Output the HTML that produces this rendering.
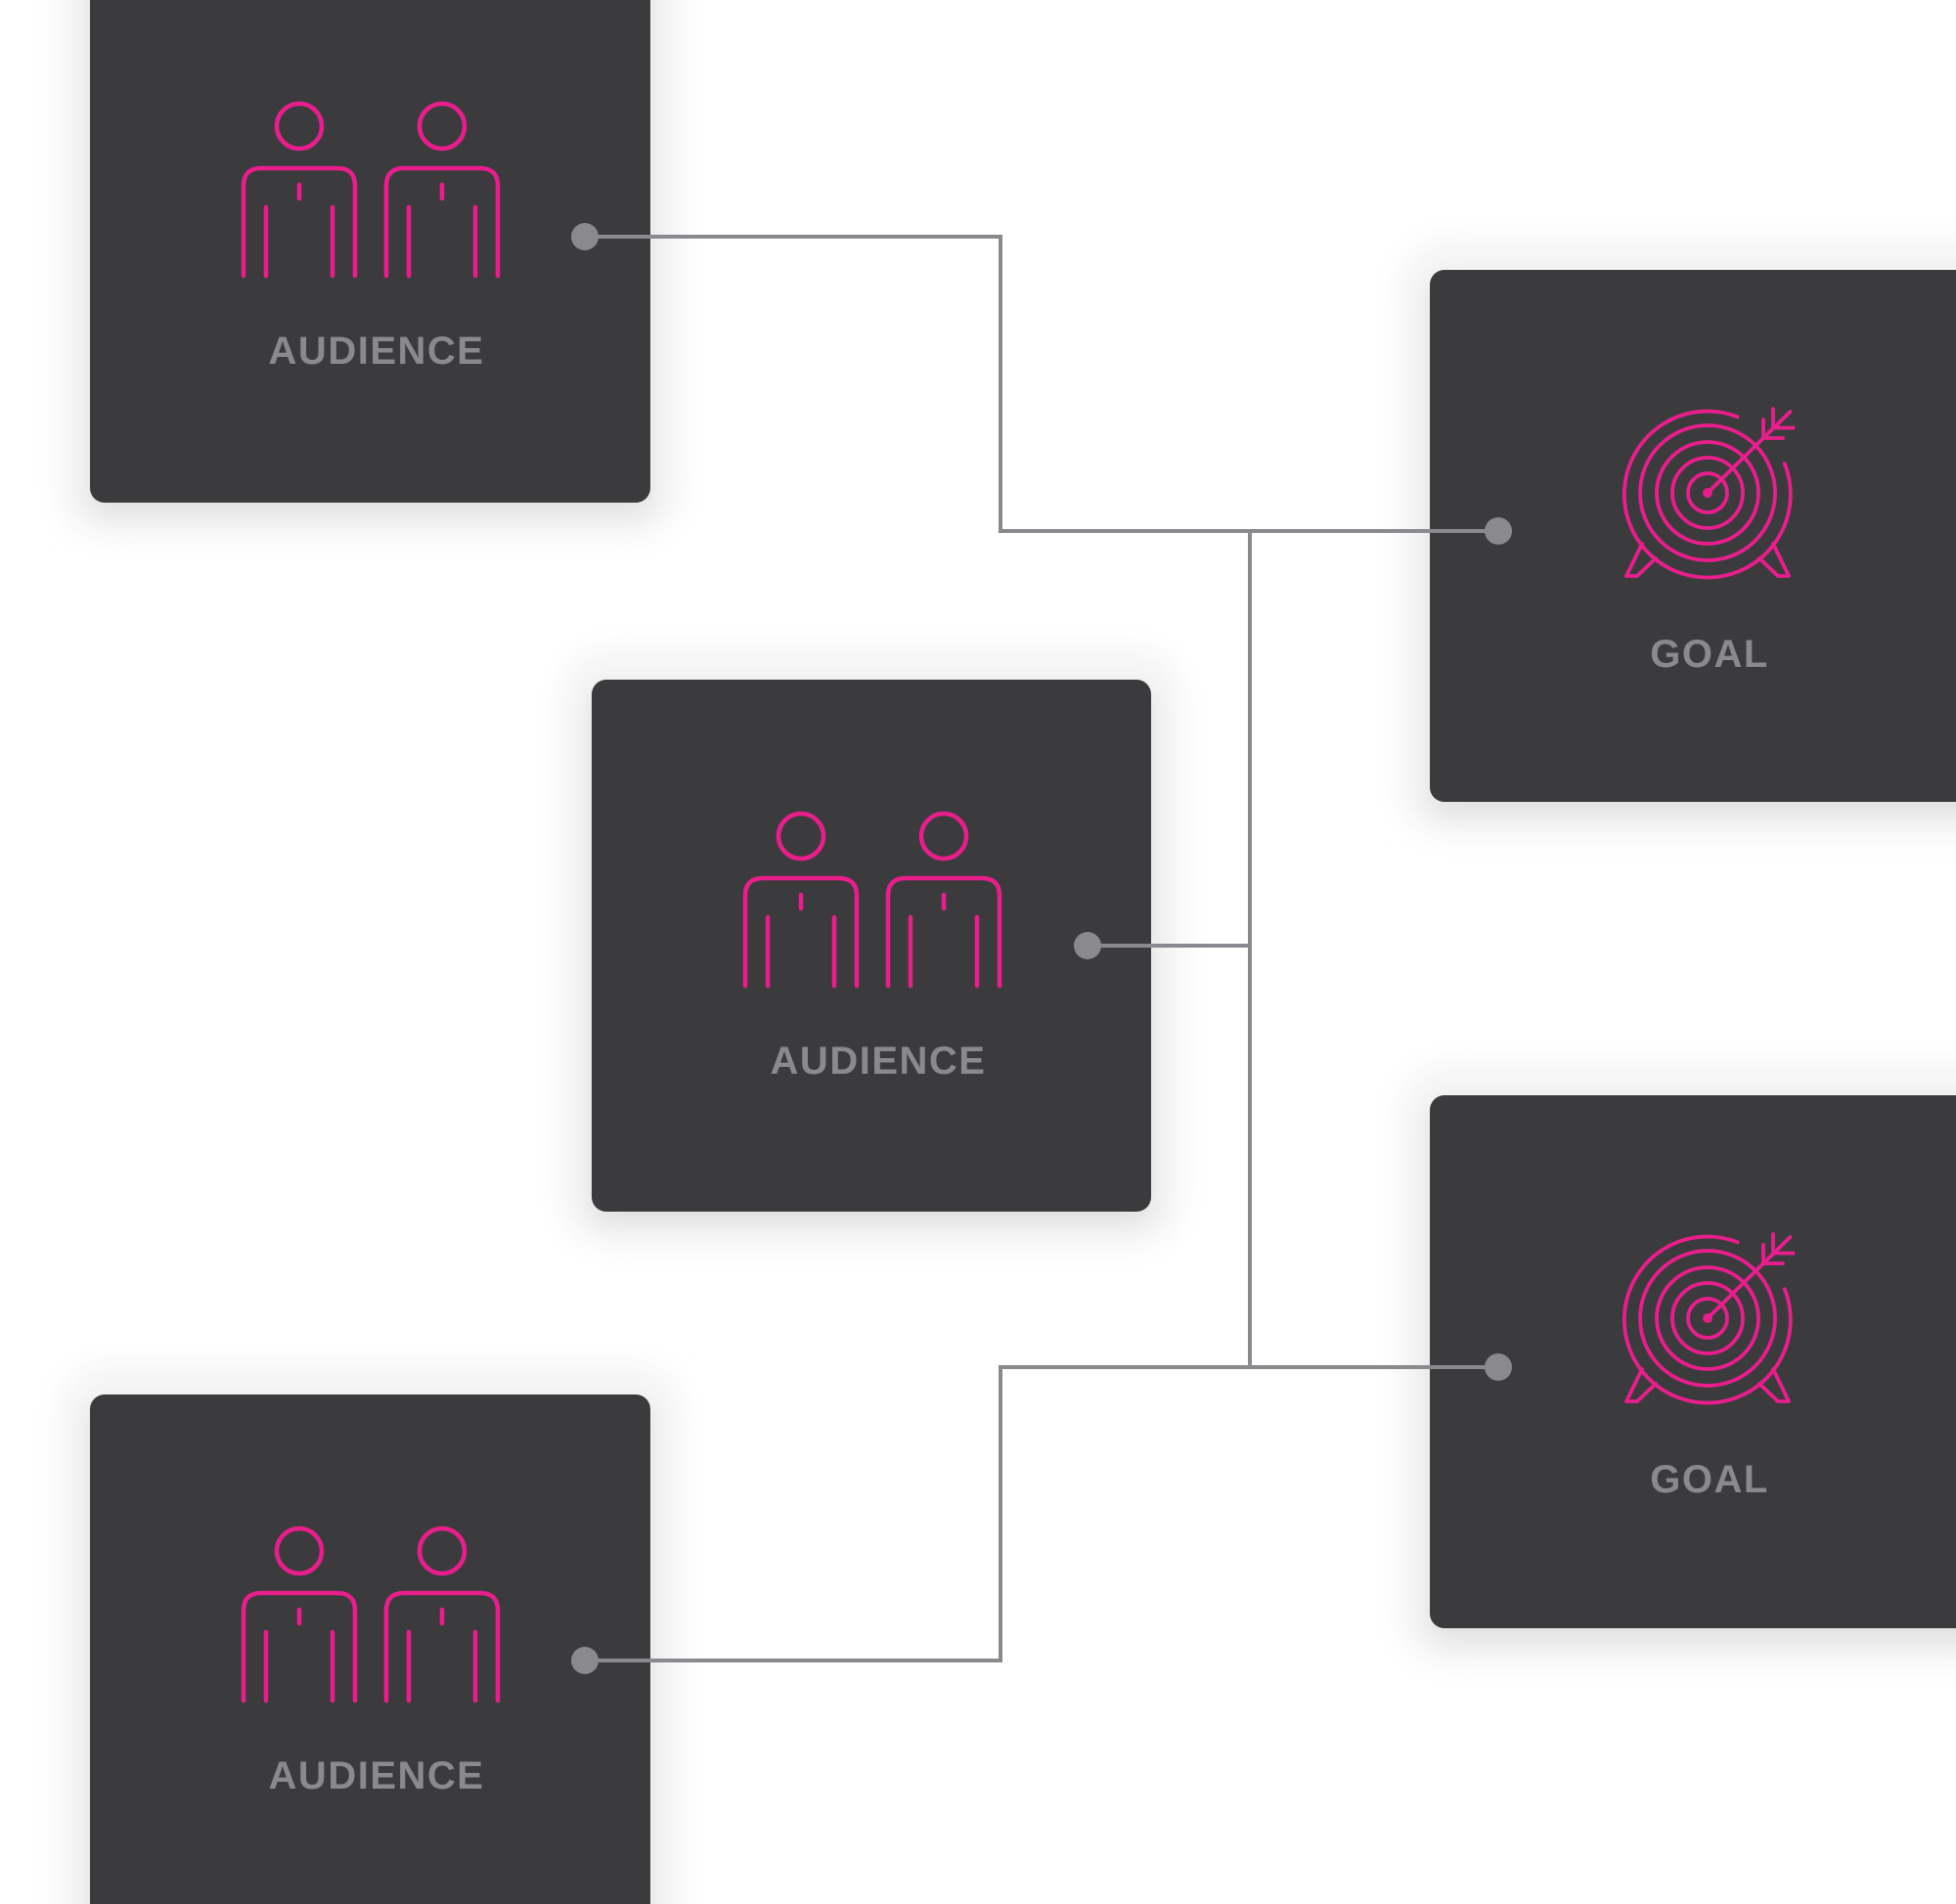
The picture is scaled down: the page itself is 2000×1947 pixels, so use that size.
<!DOCTYPE html>
<html><head><meta charset="utf-8"><style>
html,body{margin:0;padding:0;background:#fff;}
body{width:2000px;height:1947px;overflow:hidden;position:relative;}
</style></head><body>
<svg width="2000" height="1947" viewBox="0 0 2000 1947" xmlns="http://www.w3.org/2000/svg" style="position:absolute;left:0;top:0">
<defs>
<filter id="halo" x="-30%" y="-30%" width="160%" height="160%">
<feGaussianBlur stdDeviation="14"/>
</filter>
<filter id="sh" x="-20%" y="-20%" width="140%" height="140%">
<feGaussianBlur in="SourceAlpha" stdDeviation="14"/>
<feOffset dy="12" result="b"/>
<feComponentTransfer><feFuncA type="linear" slope="0.09"/></feComponentTransfer>
<feMerge><feMergeNode/><feMergeNode in="SourceGraphic"/></feMerge>
</filter>
<g id="aud" fill="none" stroke="#e91e8c" stroke-width="4.5" stroke-linecap="round">
<circle cx="306" cy="129" r="23"/>
<path d="M249 282 V190 Q249 172 267 172 H345 Q363 172 363 190 V282"/>
<path d="M272 212 V282 M340 212 V282 M306 189 V203"/>
<circle cx="452" cy="129" r="23"/>
<path d="M395 282 V190 Q395 172 413 172 H491 Q509 172 509 190 V282"/>
<path d="M418 212 V282 M486 212 V282 M452 189 V203"/>
</g>
<g id="goal" fill="none" stroke="#e91e8c" stroke-width="3.8" stroke-linecap="round" stroke-linejoin="round">
<circle cx="0" cy="0" r="20"/>
<circle cx="0" cy="0" r="36"/>
<circle cx="0" cy="0" r="52"/>
<circle cx="0" cy="0" r="69"/>
<path d="M78.8 -29.9 A85 85 0 1 1 30.6 -77.7"/>
<path d="M0 0 L84.5 -83"/>
<path d="M57 -75 V-56 H77 M67 -86 V-66.5 H87.6"/>
<path d="M-67 52 L-83 85 L-72 85 L-53 67 M67 52 L83 85 L72 85 L53 67"/>
<circle cx="0" cy="0" r="3" fill="#e91e8c"/>
</g>
</defs>
<!-- halos -->
<g fill="#f4f4f4" filter="url(#halo)">
<rect x="60" y="-70" width="637" height="620" rx="50"/>
<rect x="573" y="663" width="636" height="612" rx="50"/>
<rect x="60" y="1394" width="637" height="620" rx="50"/>
<rect x="1430" y="244" width="640" height="612" rx="50"/>
<rect x="1430" y="1088" width="640" height="613" rx="50"/>
</g>
<!-- boxes -->
<g filter="url(#sh)" fill="#3a3a3c">
<rect x="92" y="-40" width="573" height="554" rx="15"/>
<rect x="605" y="695" width="572" height="544" rx="15"/>
<rect x="92" y="1426" width="573" height="560" rx="15"/>
<rect x="1462" y="276" width="600" height="544" rx="15"/>
<rect x="1462" y="1120" width="600" height="545" rx="15"/>
</g>
<!-- icons -->
<use href="#aud"/>
<use href="#aud" transform="translate(513,726)"/>
<use href="#aud" transform="translate(0,1457)"/>
<use href="#goal" transform="translate(1746,504)"/>
<use href="#goal" transform="translate(1746,1348)"/>
<!-- labels -->
<g font-family="Liberation Sans, sans-serif" font-weight="bold" font-size="40" fill="#8a8a8e" text-anchor="middle" letter-spacing="1.5">
<text x="385" y="372">AUDIENCE</text>
<text x="898" y="1098">AUDIENCE</text>
<text x="385" y="1829">AUDIENCE</text>
<text x="1748" y="682">GOAL</text>
<text x="1748" y="1526">GOAL</text>
</g>
<!-- connectors -->
<g fill="none" stroke="#8a8a8e" stroke-width="4">
<path d="M598 242 H1023 V543 H1532"/>
<path d="M1112 967 H1278"/>
<path d="M1278 543 V1398"/>
<path d="M598 1698 H1023 V1398 H1532"/>
</g>
<g fill="#8a8a8e">
<circle cx="598" cy="242" r="14"/>
<circle cx="1532" cy="543" r="14"/>
<circle cx="1112" cy="967" r="14"/>
<circle cx="598" cy="1698" r="14"/>
<circle cx="1532" cy="1398" r="14"/>
</g>
</svg>
</body></html>
